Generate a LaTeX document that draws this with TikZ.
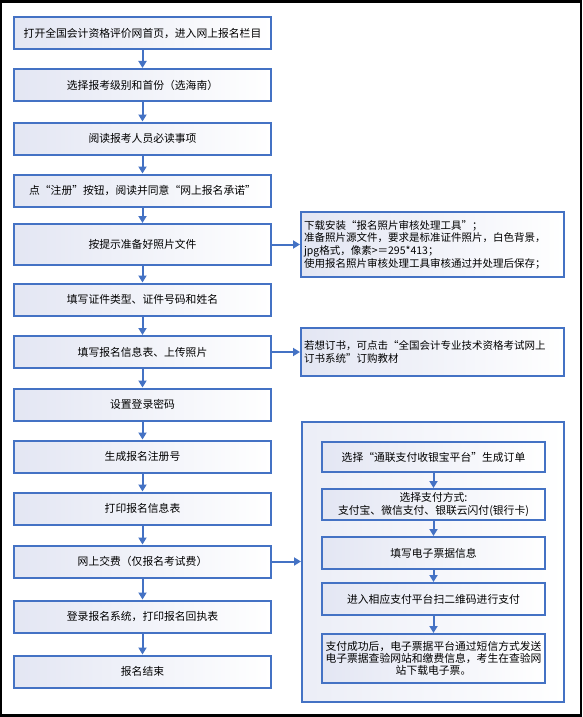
\documentclass[tikz,border=0pt]{standalone}
\usepackage{fontspec}
\setmainfont{Noto Sans CJK SC}
\usetikzlibrary{arrows.meta}
\definecolor{bblue}{HTML}{4472C4}
\definecolor{bfill}{HTML}{E3E6F3}
\begin{document}
\begin{tikzpicture}[x=1pt,y=-1pt,
  box/.style={draw=bblue, line width=2pt, left color=bfill, right color=white,
    minimum width=257pt, minimum height=32pt, inner sep=2pt,
    font=\fontsize{10.8}{13}\selectfont, align=center},
  ibox/.style={box, minimum width=223pt, minimum height=31pt, font=\fontsize{10.8}{12.2}\selectfont},
  note/.style={draw=bblue, line width=2pt, left color=bfill, right color=white,
    minimum width=263pt, text width=257pt, inner xsep=3pt, inner ysep=2pt,
    font=\fontsize{10.5}{12.6}\selectfont, align=left},
  frame/.style={draw=bblue, line width=2pt, left color=bfill!70!white, right color=white,
    minimum width=262pt, minimum height=280pt, inner sep=0pt},
  arr/.style={draw=bblue, line width=2pt, -{Triangle[length=7pt,width=8pt]}}
]
\useasboundingbox (0,0) rectangle (582,717);
\fill[black] (0,0) rectangle (582,717);
\fill[white] (2,3) rectangle (579.5,714);

% main column
\node[box] (b1) at (142.5,33) {打开全国会计资格评价网首页，进入网上报名栏目};
\node[box] (b2) at (142.5,85) {选择报考级别和首份（选海南）};
\node[box] (b3) at (142.5,138.5) {阅读报考人员必读事项};
\node[box] (b4) at (142.5,190.5) {点“注册”按钮，阅读并同意“网上报名承诺”};
\node[box, minimum height=41pt] (b5) at (142.5,244.5) {按提示准备好照片文件};
\node[box] (b6) at (142.5,299.5) {填写证件类型、证件号码和姓名};
\node[box] (b7) at (142.5,352) {填写报名信息表、上传照片};
\node[box] (b8) at (142.5,404.5) {设置登录密码};
\node[box] (b9) at (142.5,456.5) {生成报名注册号};
\node[box] (b10) at (142.5,508.5) {打印报名信息表};
\node[box] (b11) at (142.5,561.5) {网上交费（仅报名考试费）};
\node[box] (b12) at (142.5,616.5) {登录报名系统，打印报名回执表};
\node[box] (b13) at (142.5,671.5) {报名结束};

\foreach \a/\b in {b1/b2,b2/b3,b3/b4,b4/b5,b5/b6,b6/b7,b7/b8,b8/b9,b9/b10,b10/b11,b11/b12,b12/b13}
  \draw[arr] (\a) -- (\b);

% notes
\node[note, minimum height=65pt] (n1) at (432.5,244.5) {下载安装“报名照片审核处理工具”；\\准备照片源文件，要求是标准证件照片，白色背景，\\jpg格式，像素>＝295*413；\\使用报名照片审核处理工具审核通过并处理后保存；};
\node[note, minimum height=48pt] (n2) at (432.5,352) {若想订书，可点击“全国会计专业技术资格考试网上\\订书系统”订购教材};
\draw[arr] (b5) -- (n1);
\draw[arr] (b7) -- (n2);

% payment frame
\node[frame] (pf) at (433,562) {};
\draw[arr] (b11) -- (b11 -| pf.west);

\node[ibox, minimum height=30pt] (p1) at (433.5,457) {选择“通联支付收银宝平台”生成订单};
\node[ibox] (p2) at (433.5,504.5) {选择支付方式:\\支付宝、微信支付、银联云闪付(银行卡)};
\node[ibox, minimum height=32pt] (p3) at (433.5,553) {填写电子票据信息};
\node[ibox, minimum height=32pt] (p4) at (433.5,599) {进入相应支付平台扫二维码进行支付};
\node[ibox, minimum height=49pt] (p5) at (433.5,658.5) {支付成功后，电子票据平台通过短信方式发送\\电子票据查验网站和缴费信息，考生在查验网\\站下载电子票。};
\foreach \a/\b in {p1/p2,p2/p3,p3/p4,p4/p5}
  \draw[arr] (\a) -- (\b);
\end{tikzpicture}
\end{document}
